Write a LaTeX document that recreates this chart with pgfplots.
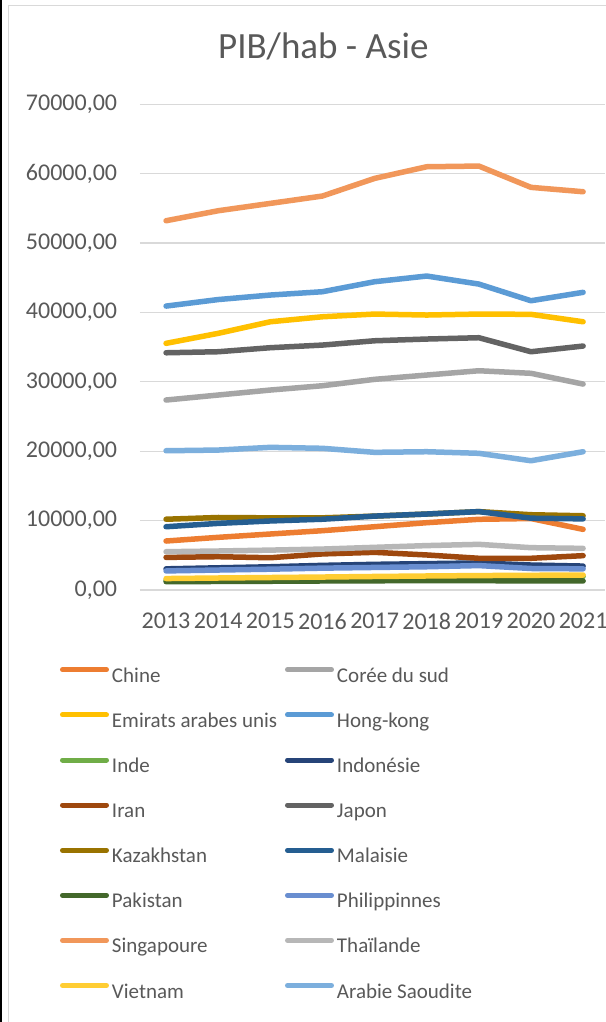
\documentclass[border=0pt]{standalone}
\usepackage{pgfplots}
\pgfplotsset{compat=1.18}
\usepackage{fontspec}
\setmainfont{Carlito}
\definecolor{txt}{HTML}{595959}
\definecolor{gridc}{HTML}{D9D9D9}
\definecolor{cChine}{HTML}{ED7D31}
\definecolor{cCoree}{HTML}{A5A5A5}
\definecolor{cEmirats}{HTML}{FFC000}
\definecolor{cHK}{HTML}{5B9BD5}
\definecolor{cInde}{HTML}{70AD47}
\definecolor{cIndo}{HTML}{264478}
\definecolor{cIran}{HTML}{9E480E}
\definecolor{cJapon}{HTML}{636363}
\definecolor{cKaz}{HTML}{997300}
\definecolor{cMal}{HTML}{255E91}
\definecolor{cPak}{HTML}{43682B}
\definecolor{cPhil}{HTML}{698ED0}
\definecolor{cSing}{HTML}{F1975A}
\definecolor{cThai}{HTML}{B7B7B7}
\definecolor{cViet}{HTML}{FFCD33}
\definecolor{cArab}{HTML}{7CAFDD}
\newcommand{\cb}[1]{\makebox[173pt][l]{#1}}
\begin{document}
\begin{tikzpicture}[x=1pt,y=1pt]
\path[use as bounding box] (-140,-432) rectangle (465,590);
\fill[white] (-140,-432) rectangle (465,590);
\draw[black, line width=2pt] (-139,-432) -- (-139,590);
\draw[gridc, line width=1.5pt] (-131.7,-432) -- (-131.7,584.5) -- (466,584.5);
\node[anchor=base, text=txt, font=\fontsize{37}{41}\selectfont, inner sep=0pt] at (183.3,531.5) {PIB/hab - Asie};
\begin{axis}[
  at={(0pt,0pt)}, anchor=south west, scale only axis,
  width=465pt, height=485.7pt,
  xmin=2012.5, xmax=2021.42, ymin=0, ymax=70000,
  xtick={2013,2014,2015,2016,2017,2018,2019,2020,2021},
  xticklabels={2013,2014,2015,2016,2017,2018,2019,2020,2021},
  ytick={0,10000,20000,30000,40000,50000,60000,70000},
  scaled y ticks=false,
  /pgf/number format/assume math mode=true,
  yticklabel style={anchor=east, inner sep=0pt, xshift=-22.7pt, text=txt, font=\fontsize{24}{28}\selectfont,
    /pgf/number format/fixed, /pgf/number format/fixed zerofill, /pgf/number format/precision=2,
    /pgf/number format/use comma, /pgf/number format/1000 sep={}},
  xticklabel style={anchor=north, inner sep=0pt, yshift=-23pt, text=txt, font=\fontsize{24}{28}\selectfont},
  major tick length=0pt, tick style={draw=none},
  axis line style={draw=none},
  ymajorgrids, grid style={gridc, line width=1.3pt},
  clip=false,
  every axis plot/.append style={line width=5.5pt, line cap=round, line join=round, no markers},
  legend columns=2,
  legend cell align=left,
  legend style={at={(-0.17204,-0.14577)}, anchor=north west, draw=none, fill=none,
    inner sep=0pt, outer sep=0pt, row sep=18.6pt, column sep=0pt,
    nodes={inner sep=0pt, text height=16pt, text depth=5pt, text=txt, font=\fontsize{21}{25}\selectfont},
    /tikz/every odd column/.style={column sep=3pt}},
  legend image code/.code={\path[draw=none] (0pt,-5pt) rectangle (49pt,16pt); \draw[#1, line width=5pt, line cap=round] (2.5pt,7pt) -- (46.5pt,7pt);},
]
\addplot[cChine] coordinates {(2013,7060) (2014,7590) (2015,8070) (2016,8550) (2017,9120) (2018,9700) (2019,10190) (2020,10300) (2021,8740)};
\addlegendentry{\cb{Chine}}
\addplot[cCoree] coordinates {(2013,27380) (2014,28100) (2015,28820) (2016,29440) (2017,30360) (2018,30980) (2019,31600) (2020,31230) (2021,29680)};
\addlegendentry{Corée du sud}
\addplot[cEmirats] coordinates {(2013,35550) (2014,36990) (2015,38660) (2016,39380) (2017,39770) (2018,39630) (2019,39770) (2020,39730) (2021,38660)};
\addlegendentry{\cb{Emirats arabes unis}}
\addplot[cHK] coordinates {(2013,40920) (2014,41860) (2015,42510) (2016,42990) (2017,44430) (2018,45250) (2019,44090) (2020,41690) (2021,42900)};
\addlegendentry{Hong-kong}
\addplot[cInde] coordinates {(2013,1400) (2014,1450) (2015,1550) (2016,1650) (2017,1800) (2018,1850) (2019,1900) (2020,1850) (2021,1950)};
\addlegendentry{\cb{Inde}}
\addplot[cIndo] coordinates {(2013,3050) (2014,3200) (2015,3350) (2016,3550) (2017,3700) (2018,3800) (2019,3900) (2020,3600) (2021,3450)};
\addlegendentry{Indonésie}
\addplot[cIran] coordinates {(2013,4700) (2014,4800) (2015,4650) (2016,5200) (2017,5430) (2018,5050) (2019,4570) (2020,4570) (2021,4950)};
\addlegendentry{\cb{Iran}}
\addplot[cJapon] coordinates {(2013,34190) (2014,34340) (2015,34920) (2016,35300) (2017,35920) (2018,36170) (2019,36360) (2020,34340) (2021,35160)};
\addlegendentry{Japon}
\addplot[cKaz] coordinates {(2013,10200) (2014,10450) (2015,10400) (2016,10400) (2017,10650) (2018,10950) (2019,11300) (2020,10850) (2021,10700)};
\addlegendentry{\cb{Kazakhstan}}
\addplot[cMal] coordinates {(2013,9120) (2014,9600) (2015,9950) (2016,10200) (2017,10650) (2018,10950) (2019,11300) (2020,10350) (2021,10250)};
\addlegendentry{Malaisie}
\addplot[cPak] coordinates {(2013,1200) (2014,1230) (2015,1260) (2016,1300) (2017,1330) (2018,1350) (2019,1350) (2020,1300) (2021,1300)};
\addlegendentry{\cb{Pakistan}}
\addplot[cPhil] coordinates {(2013,2750) (2014,2880) (2015,3000) (2016,3150) (2017,3250) (2018,3350) (2019,3520) (2020,3100) (2021,3050)};
\addlegendentry{Philippinnes}
\addplot[cSing] coordinates {(2013,53220) (2014,54660) (2015,55720) (2016,56780) (2017,59320) (2018,61000) (2019,61100) (2020,58030) (2021,57400)};
\addlegendentry{\cb{Singapoure}}
\addplot[cThai] coordinates {(2013,5520) (2014,5620) (2015,5750) (2016,5900) (2017,6150) (2018,6400) (2019,6580) (2020,6100) (2021,6000)};
\addlegendentry{Thaïlande}
\addplot[cViet] coordinates {(2013,1650) (2014,1730) (2015,1800) (2016,1870) (2017,1950) (2018,2020) (2019,2080) (2020,2120) (2021,2160)};
\addlegendentry{\cb{Vietnam}}
\addplot[cArab] coordinates {(2013,20070) (2014,20170) (2015,20560) (2016,20420) (2017,19840) (2018,19930) (2019,19700) (2020,18630) (2021,19930)};
\addlegendentry{Arabie Saoudite}
\end{axis}
\end{tikzpicture}
\end{document}
